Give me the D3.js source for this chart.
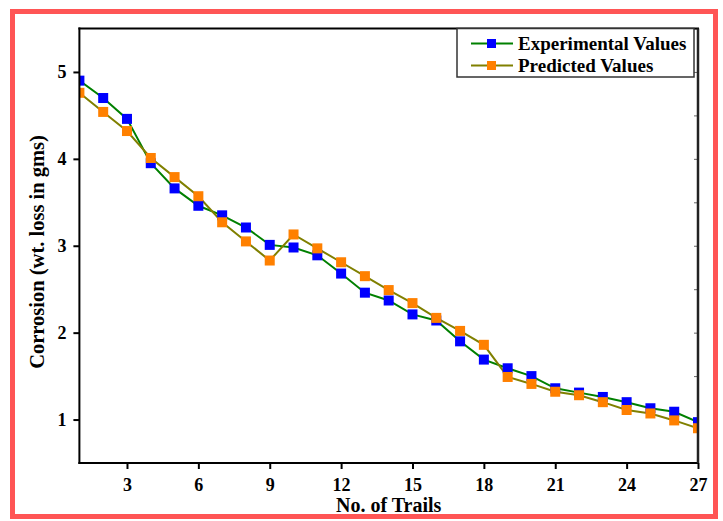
<!DOCTYPE html>
<html>
<head>
<meta charset="utf-8">
<script src="https://cdn.jsdelivr.net/npm/d3@7"></script>
<style>
  html, body { margin: 0; padding: 0; background: #fff; }
  svg { display: block; }
  text { font-family: "Liberation Serif", "Times New Roman", serif; font-weight: bold; fill: #000; }
</style>
</head>
<body>
<svg id="chart" width="723" height="521"></svg>
<script>
const trials = d3.range(1, 28);
const experimental = [4.90, 4.70, 4.46, 3.95, 3.66, 3.46, 3.35, 3.21, 3.01, 2.98,
                      2.89, 2.68, 2.46, 2.37, 2.21, 2.14, 1.90, 1.69, 1.59, 1.50,
                      1.36, 1.31, 1.26, 1.20, 1.13, 1.09, 0.97];
const predicted = [4.76, 4.54, 4.32, 4.01, 3.79, 3.57, 3.27, 3.05, 2.83, 3.13,
                   2.97, 2.81, 2.65, 2.49, 2.34, 2.17, 2.02, 1.86, 1.49, 1.41,
                   1.32, 1.28, 1.20, 1.11, 1.07, 0.99, 0.90];
const xTicks = [3, 6, 9, 12, 15, 18, 21, 24, 27];
const yTicks = [1, 2, 3, 4, 5];
const seriesNames = ["Experimental Values", "Predicted Values"];
const lineColors = ["#008000", "#808000"];
const markerColors = ["#0000ff", "#ff8000"];

const svg = d3.select("#chart");
const L = 79.4, R = 698, T = 28.5, B = 463;

// red frame
svg.append("rect").attr("x", 12.5).attr("y", 11.5).attr("width", 703).attr("height", 505)
  .attr("fill", "#fff").attr("stroke", "#ff5555").attr("stroke-width", 5);

const x = d3.scaleLinear().domain([1, 27]).range([L, R]);
const y = d3.scaleLinear().domain([0.5, 5.5]).range([B, T]);

svg.append("defs").append("clipPath").attr("id", "clip")
  .append("rect").attr("x", L).attr("y", T).attr("width", R - L).attr("height", B - T);

// right axis minor inward ticks
const rightAxis = d3.axisLeft(y).tickValues(d3.range(1, 5.51, 0.5)).tickSize(4).tickFormat("");
svg.append("g").attr("transform", `translate(${R},0)`).call(rightAxis)
  .call(g => g.select(".domain").remove())
  .call(g => g.selectAll("line").attr("stroke", "#666").attr("stroke-width", 1));

// series
const data = [experimental, predicted];
const plot = svg.append("g").attr("clip-path", "url(#clip)");
data.forEach((vals, si) => {
  const line = d3.line().x((d, i) => x(trials[i])).y(d => y(d));
  plot.append("path").datum(vals).attr("d", line)
    .attr("fill", "none").attr("stroke", lineColors[si]).attr("stroke-width", 2);
});
data.forEach((vals, si) => {
  plot.selectAll(null).data(vals).enter().append("rect")
    .attr("x", (d, i) => x(trials[i]) - 5)
    .attr("y", d => y(d) - 5)
    .attr("width", 10).attr("height", 10)
    .attr("fill", markerColors[si]);
});

// axes
const xAxis = d3.axisBottom(x).tickValues(xTicks).tickSize(6).tickPadding(9).tickFormat(d3.format("d"));
const gx = svg.append("g").attr("transform", `translate(0,${B})`).call(xAxis);
gx.select(".domain").attr("stroke-width", 2).attr("d", `M${L - 1},0H${R + 1}`);
gx.selectAll("line").attr("stroke-width", 2);
gx.selectAll("text").attr("font-size", 18).attr("font-family", "Liberation Serif").attr("font-weight", "bold");

const yAxis = d3.axisLeft(y).tickValues(yTicks).tickSize(6).tickPadding(7).tickFormat(d3.format("d"));
const gy = svg.append("g").attr("transform", `translate(${L},0)`).call(yAxis);
gy.select(".domain").attr("stroke-width", 2).attr("d", `M0,${T - 1}V${B + 1}`);
gy.selectAll("line").attr("stroke-width", 2);
gy.selectAll("text").attr("font-size", 18).attr("font-family", "Liberation Serif").attr("font-weight", "bold");

// top and right borders
svg.append("line").attr("x1", L - 1).attr("x2", R + 1).attr("y1", T).attr("y2", T)
  .attr("stroke", "#000").attr("stroke-width", 2);
svg.append("line").attr("x1", R).attr("x2", R).attr("y1", T).attr("y2", B)
  .attr("stroke", "#222").attr("stroke-width", 2.5);

// axis titles
svg.append("text").attr("x", (L + R) / 2).attr("y", 512).attr("text-anchor", "middle")
  .attr("font-size", 20).text("No. of Trails");
svg.append("text").attr("transform", `translate(44,252) rotate(-90)`)
  .attr("text-anchor", "middle").attr("font-size", 20.5).text("Corrosion (wt. loss in gms)");

// legend
const lg = svg.append("g");
lg.append("rect").attr("x", 457).attr("y", 28.5).attr("width", 237).attr("height", 48.5)
  .attr("fill", "#fff").attr("stroke", "#333").attr("stroke-width", 1.5);
seriesNames.forEach((name, i) => {
  const cy = 43.5 + i * 22;
  lg.append("line").attr("x1", 471).attr("x2", 513).attr("y1", cy).attr("y2", cy)
    .attr("stroke", lineColors[i]).attr("stroke-width", 2);
  lg.append("rect").attr("x", 487).attr("y", cy - 4.5).attr("width", 9).attr("height", 9)
    .attr("fill", markerColors[i]);
  lg.append("text").attr("x", 518).attr("y", cy + 6).attr("font-size", 19).text(name);
});
</script>
</body>
</html>
